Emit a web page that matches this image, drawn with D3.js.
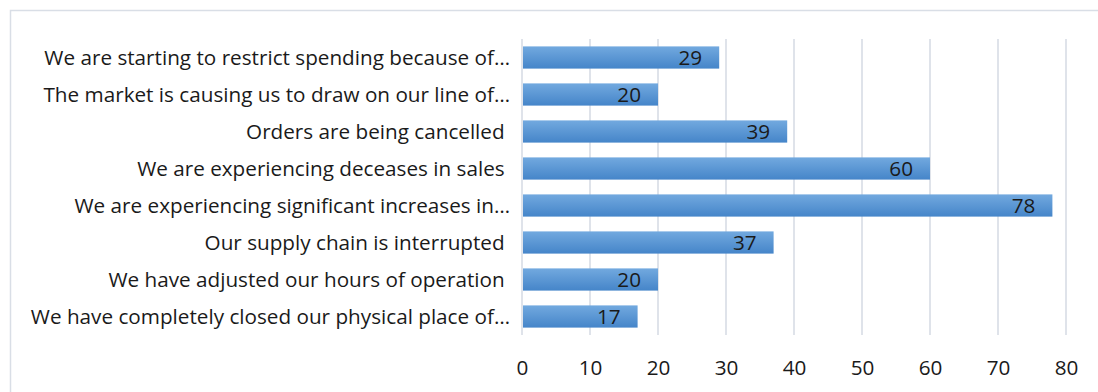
<!DOCTYPE html>
<html>
<head>
<meta charset="utf-8">
<script src="https://cdn.jsdelivr.net/npm/d3@7"></script>
<style>
  html, body { margin: 0; padding: 0; background: #fff; }
  svg { display: block; }
  text { font-family: "Open Sans", "Lato", sans-serif; fill: #1a1a1a; }
</style>
</head>
<body>
<svg id="chart" width="1098" height="392"></svg>
<script>
const categories = [
  "We are starting to restrict spending because of\u2026",
  "The market is causing us to draw on our line of\u2026",
  "Orders are being cancelled ",
  "We are experiencing deceases in sales ",
  "We are experiencing significant increases in\u2026",
  "Our supply chain is interrupted ",
  "We have adjusted our hours of operation ",
  "We have completely closed our physical place of\u2026"
];
const values = [29, 20, 39, 60, 78, 37, 20, 17];
const tickValues = [0, 10, 20, 30, 40, 50, 60, 70, 80];

const svg = d3.select("#chart");
const W = 1098, H = 392;
const fontSize = 20.7;

// chart frame
svg.append("rect")
  .attr("x", 10.5).attr("y", 10.5)
  .attr("width", W + 10).attr("height", H + 10)
  .attr("fill", "#fff").attr("stroke", "#d9dee6").attr("stroke-width", 1.5);

const plotLeft = 522, plotRight = 1066, plotTop = 39, plotBottom = 335;

const x = d3.scaleLinear().domain([0, 80]).range([plotLeft, plotRight]);
const y = d3.scaleBand().domain(categories).range([plotTop, plotBottom]).paddingInner(0.4).paddingOuter(0.2);

// gradient fill for bars
const defs = svg.append("defs");
const grad = defs.append("linearGradient").attr("id", "barGrad")
  .attr("x1", 0).attr("y1", 0).attr("x2", 0).attr("y2", 1);
grad.append("stop").attr("offset", "0%").attr("stop-color", "#72a9df");
grad.append("stop").attr("offset", "100%").attr("stop-color", "#4585c9");

// vertical gridlines
svg.append("g")
  .selectAll("line")
  .data(tickValues)
  .join("line")
  .attr("x1", d => x(d)).attr("x2", d => x(d))
  .attr("y1", plotTop).attr("y2", plotBottom)
  .attr("stroke", "#dfe3ea").attr("stroke-width", 2);

// bars
svg.append("g")
  .selectAll("rect")
  .data(values)
  .join("rect")
  .attr("x", x(0) + 1)
  .attr("y", (d, i) => y(categories[i]))
  .attr("width", d => x(d) - x(0) - 1)
  .attr("height", y.bandwidth())
  .attr("fill", "url(#barGrad)");

// value labels inside bar ends
svg.append("g")
  .selectAll("text")
  .data(values)
  .join("text")
  .attr("x", d => x(d) - 17)
  .attr("y", (d, i) => y(categories[i]) + y.bandwidth() / 2)
  .attr("dy", "0.36em")
  .attr("text-anchor", "end")
  .attr("font-size", fontSize)
  .text(d => d);

// category axis
const yAxis = d3.axisLeft(y).tickSize(0).tickPadding(12);
const gy = svg.append("g").attr("transform", `translate(${plotLeft},0)`).call(yAxis);
gy.attr("font-family", null);
gy.select(".domain").remove();
gy.selectAll("text")
  .attr("font-size", fontSize)
  .attr("dy", "0.36em")
  .style("white-space", "pre")
  .attr("xml:space", "preserve")
  .attr("fill", "#1a1a1a");

// value axis
const xAxis = d3.axisBottom(x).tickValues(tickValues).tickSize(0).tickPadding(0);
const gx = svg.append("g").attr("transform", `translate(0,${plotBottom + 25})`).call(xAxis);
gx.attr("font-family", null);
gx.select(".domain").remove();
gx.selectAll("text").attr("font-size", fontSize).attr("fill", "#1a1a1a");
</script>
</body>
</html>
